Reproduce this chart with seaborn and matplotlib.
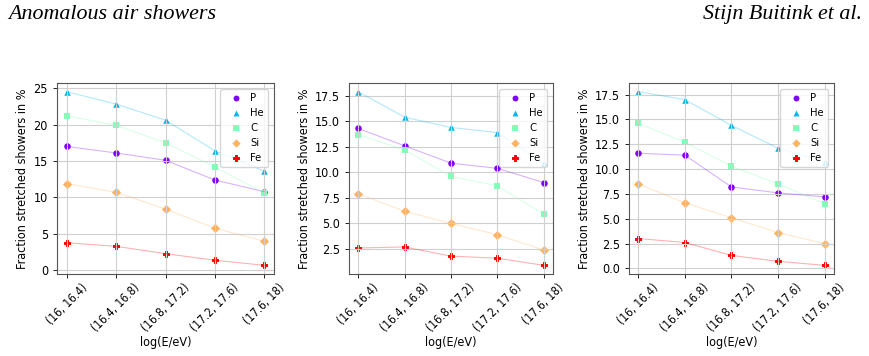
import matplotlib
matplotlib.use("Agg")
import matplotlib.pyplot as plt
from matplotlib.ticker import MaxNLocator
import seaborn as sns
import pandas as pd
import numpy as np

# energy bins shown on the x axis
bins = ["(16, 16.4)", "(16.4, 16.8)", "(16.8, 17.2)", "(17.2, 17.6)", "(17.6, 18)"]
particles = ["P", "He", "C", "Si", "Fe"]
markers = ["o", "^", "s", "D", "P"]

# fraction of stretched showers in %, one list per particle, per panel
panel1_P = [17.0, 16.1, 15.1, 12.4, 10.8]
panel1_He = [24.5, 22.8, 20.6, 16.4, 13.6]
panel1_C = [21.2, 19.9, 17.5, 14.2, 10.6]
panel1_Si = [11.9, 10.7, 8.4, 5.8, 4.0]
panel1_Fe = [3.8, 3.3, 2.3, 1.4, 0.7]

panel2_P = [14.3, 12.6, 10.9, 10.4, 9.0]
panel2_He = [17.9, 15.4, 14.4, 13.9, 10.9]
panel2_C = [13.7, 12.2, 9.6, 8.7, 5.9]
panel2_Si = [7.9, 6.2, 5.0, 3.9, 2.4]
panel2_Fe = [2.6, 2.7, 1.8, 1.6, 0.9]

panel3_P = [11.6, 11.4, 8.2, 7.6, 7.2]
panel3_He = [17.8, 17.0, 14.4, 12.1, 10.7]
panel3_C = [14.6, 12.7, 10.3, 8.5, 6.5]
panel3_Si = [8.5, 6.6, 5.1, 3.6, 2.5]
panel3_Fe = [3.0, 2.6, 1.3, 0.7, 0.3]

panels = [
    [panel1_P, panel1_He, panel1_C, panel1_Si, panel1_Fe],
    [panel2_P, panel2_He, panel2_C, panel2_Si, panel2_Fe],
    [panel3_P, panel3_He, panel3_C, panel3_Si, panel3_Fe],
]

# the original figure is squeezed horizontally, so a condensed face fits best
plt.rcParams["font.family"] = ["DejaVu Sans"]
plt.rcParams["font.stretch"] = "condensed"
plt.rcParams["xtick.labelsize"] = 8.5
plt.rcParams["ytick.labelsize"] = 9
plt.rcParams["axes.labelsize"] = 9
plt.rcParams["legend.fontsize"] = 8


def make_frame(series):
    rows = []
    for name, vals in zip(particles, series):
        for b, v in zip(bins, vals):
            rows.append({"bin": b, "particle": name, "fraction": v})
    return pd.DataFrame(rows)


def plot_panel(ax, df, colors):
    for name, m, c in zip(particles, markers, colors):
        sub = df[df["particle"] == name]
        sns.lineplot(data=sub, x="bin", y="fraction", color=c, alpha=0.3,
                     linewidth=0.8, sort=False, ax=ax, legend=False)
        if m == "P":
            # fill out the thin plus so it looks like the chunky one in the paper
            sns.scatterplot(data=sub, x="bin", y="fraction", color=c, marker=m,
                            s=18, linewidth=0.7, edgecolor=c, label=name, ax=ax)
        else:
            sns.scatterplot(data=sub, x="bin", y="fraction", color=c, marker=m,
                            s=22, linewidth=0, label=name, ax=ax)
    ax.yaxis.set_major_locator(MaxNLocator(nbins=8, steps=[1, 2, 2.5, 5, 10]))
    ax.grid(True, color="#d0d0d0", linewidth=0.8)
    ax.set_xlabel("log(E/eV)", labelpad=1)
    ax.set_ylabel("Fraction stretched showers in %", labelpad=3)
    ax.tick_params(axis="both", length=3, width=0.6)
    ax.tick_params(axis="x", labelrotation=45, pad=2)
    for sp in ax.spines.values():
        sp.set_color("#555555")
        sp.set_linewidth(0.8)
    ax.legend(loc="upper right", handletextpad=0.3, borderpad=0.4,
              labelspacing=0.45, framealpha=0.8, markerscale=0.9)


def main():
    colors = [plt.cm.rainbow(x) for x in np.linspace(0, 1, 5)]
    fig = plt.figure(figsize=(8.69, 3.56), dpi=100)

    fig.text(0.009, 0.958, "Anomalous air showers", family="Liberation Serif",
             style="italic", stretch="normal", fontsize=15.8, va="center", ha="left")
    fig.text(0.992, 0.958, "Stijn Buitink et al.", family="Liberation Serif",
             style="italic", stretch="normal", fontsize=15.8, va="center", ha="right")

    boxes = [
        [0.0656, 0.2303, 0.2497, 0.5365],
        [0.4016, 0.2303, 0.2348, 0.5365],
        [0.7238, 0.2303, 0.2359, 0.5365],
    ]
    for box, series in zip(boxes, panels):
        ax = fig.add_axes(box)
        plot_panel(ax, make_frame(series), colors)

    fig.savefig("out.png", dpi=100)
    plt.close(fig)


if __name__ == "__main__":
    main()
